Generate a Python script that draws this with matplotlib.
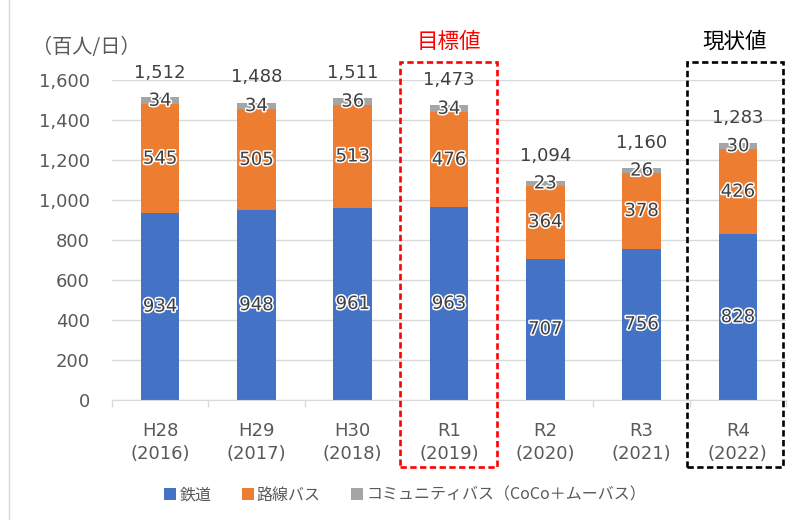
import matplotlib
matplotlib.use("Agg")
import matplotlib.pyplot as plt
import matplotlib.patheffects as pe
from matplotlib.patches import Rectangle
from matplotlib.lines import Line2D

plt.rcParams['font.family'] = ['DejaVu Sans', 'Noto Sans CJK JP']

# data
years = ["H28\n(2016)", "H29\n(2017)", "H30\n(2018)", "R1\n(2019)", "R2\n(2020)", "R3\n(2021)", "R4\n(2022)"]
rail = [934, 948, 961, 963, 707, 756, 828]
route_bus = [545, 505, 513, 476, 364, 378, 426]
community_bus = [34, 34, 36, 34, 23, 26, 30]
totals = [1512, 1488, 1511, 1473, 1094, 1160, 1283]
series_names = ["鉄道", "路線バス", "コミュニティバス（CoCo＋ムーバス）"]
yticks = [0, 200, 400, 600, 800, 1000, 1200, 1400, 1600]

colors = ["#4472C4", "#ED7D31", "#A5A5A5"]
txt = "#404040"

fig = plt.figure(figsize=(7.98, 5.2), dpi=100)
ax = fig.add_axes([112/798, 120/520, 674/798, 320/520])

x = list(range(len(years)))
w = 0.4
b1 = ax.bar(x, rail, w, color=colors[0], label=series_names[0], zorder=2)
bottom2 = rail
b2 = ax.bar(x, route_bus, w, bottom=bottom2, color=colors[1], label=series_names[1], zorder=2)
bottom3 = [a + b for a, b in zip(rail, route_bus)]
b3 = ax.bar(x, community_bus, w, bottom=bottom3, color=colors[2], label=series_names[2], zorder=2)

halo = [pe.withStroke(linewidth=2.2, foreground="white")]
fs = 13
for i in x:
    ax.text(i, rail[i] / 2, str(rail[i]), ha="center", va="center", fontsize=fs,
            color=txt, path_effects=halo, zorder=3)
    ax.text(i, bottom2[i] + route_bus[i] / 2, str(route_bus[i]), ha="center", va="center",
            fontsize=fs, color=txt, path_effects=halo, zorder=3)
    ax.text(i, bottom3[i] + community_bus[i] / 2, str(community_bus[i]), ha="center", va="center",
            fontsize=fs, color=txt, path_effects=halo, zorder=3)
    ax.text(i, totals[i] + 125, f"{totals[i]:,}", ha="center", va="center", fontsize=fs,
            color=txt, clip_on=False, zorder=3)

ax.set_xlim(-0.5, len(years) - 0.5)
ax.set_ylim(0, 1600)
ax.set_yticks(yticks)
ax.set_yticklabels([f"{v:,}" for v in yticks])
ax.set_xticks(x)
ax.set_xticklabels(years, linespacing=1.35)
ax.tick_params(axis="both", labelsize=fs, labelcolor="#595959", length=0)
ax.tick_params(axis="y", pad=16)
ax.tick_params(axis="x", pad=16)
ax.set_xticks([i + 0.5 for i in range(-1, len(years))], minor=True)
ax.tick_params(axis="x", which="minor", length=5, color="#D9D9D9", width=1)
ax.grid(axis="y", color="#D9D9D9", lw=1, zorder=0)
for s in ["top", "right", "left"]:
    ax.spines[s].set_visible(False)
ax.spines["bottom"].set_color("#D9D9D9")

# highlight boxes
ax.add_patch(Rectangle((2.49, -335), 1.01, 2025, fill=False, ec="#FF0000", lw=1.9,
                       ls=(0, (2.4, 1.3)), clip_on=False, zorder=4))
ax.add_patch(Rectangle((5.47, -335), 1.0, 2025, fill=False, ec="black", lw=1.9,
                       ls=(0, (2.4, 1.3)), clip_on=False, zorder=4))
ax.text(2.995, 1790, "目標値", ha="center", va="center", fontsize=15.5, color="#FF0000",
        clip_on=False, family="Noto Sans CJK JP")
ax.text(5.97, 1790, "現状値", ha="center", va="center", fontsize=15.5, color="black",
        clip_on=False, family="Noto Sans CJK JP")

fig.text(32/798, 1 - 48/520, "（百人/日）", ha="left", va="center", fontsize=14.5, color="#595959",
         family=["Noto Sans CJK JP"])

fig.legend(handles=[b1, b2, b3], loc="center", bbox_to_anchor=(405/798, 1 - 495/520), ncol=3,
           frameon=False, handlelength=0.75, handleheight=0.75, handletextpad=0.2,
           columnspacing=1.9, labelcolor="#595959",
           prop={"family": ["Noto Sans CJK JP"], "size": 11.5})

fig.add_artist(Line2D([9/798, 9/798], [0, 1], color="#D9D9D9", lw=1))

fig.savefig("out.png", dpi=100)
